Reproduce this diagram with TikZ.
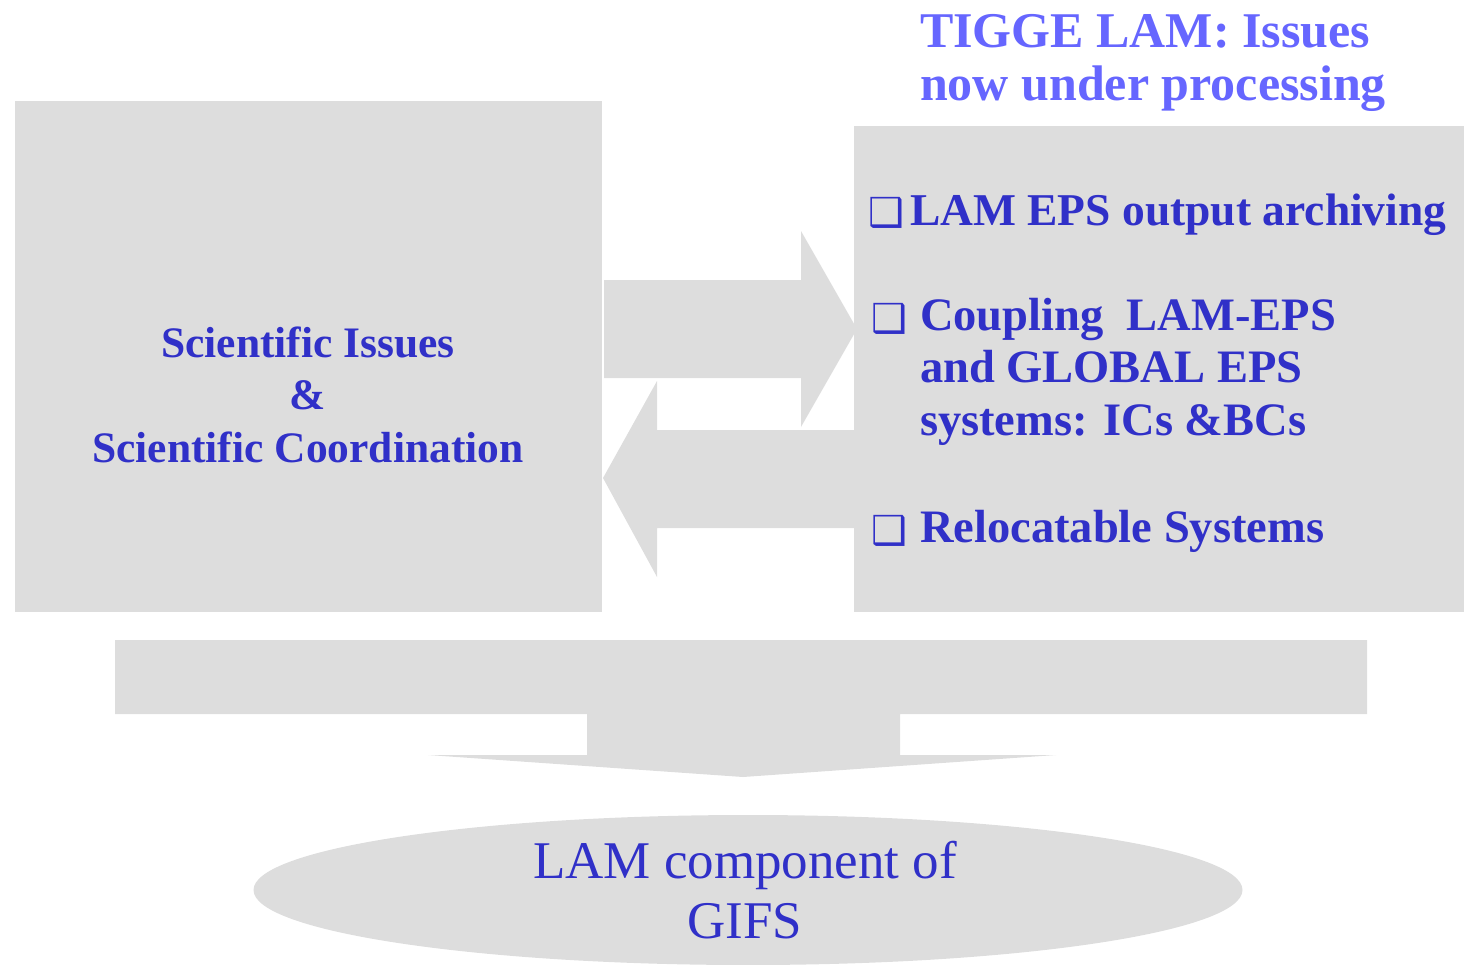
\documentclass[tikz,border=0pt]{standalone}
\usepackage{fontspec}
\setmainfont{Liberation Serif}
\newfontfamily\dingfont{DejaVu Sans}
\usetikzlibrary{shapes.geometric}
\definecolor{boxgray}{HTML}{DDDDDD}
\definecolor{txtblue}{RGB}{48,48,200}
\definecolor{titleblue}{HTML}{6666FF}
\tikzset{
  panel/.style={fill=boxgray, draw=none},
  flow/.style={fill=boxgray, draw=none},
  plain/.style={inner sep=0pt, outer sep=0pt},
  bodytext/.style={plain, text=txtblue, font=\bfseries\fontsize{46.5}{52.5}\selectfont, align=left},
  bullet/.style={plain, text=txtblue, font=\dingfont\fontsize{40}{48}\selectfont},
}
\begin{document}
\begin{tikzpicture}[x=1pt,y=-1pt]
\useasboundingbox (0,0) rectangle (1464,964);
% panels
\path[panel] (15,101) rectangle (602,612);
\path[panel] (854,126) rectangle (1464,612);
% right arrow (left panel -> right panel)
\fill[flow] (604,280) -- (801,280) -- (801,231) -- (857,329) -- (801,427) -- (801,378) -- (604,378) -- cycle;
% left arrow (right panel -> left panel)
\fill[flow] (854,430) -- (657,430) -- (657,381) -- (603,478) -- (657,577) -- (657,528) -- (854,528) -- cycle;
% bottom arrow
\fill[flow] (115,640) -- (1367,640) -- (1367,714) -- (900,714) -- (900,755) -- (1056,755) -- (743,777) -- (428,755) -- (587,755) -- (587,714) -- (115,714) -- cycle;
% ellipse
\node[ellipse, fill=boxgray, draw=none, minimum width=989pt, minimum height=150pt, inner sep=0pt] (gifs) at (748,890) {};
% title
\node[plain, anchor=base west, text=titleblue, font=\bfseries\fontsize{50}{53}\selectfont, align=left] (title) at (920,100) {TIGGE LAM: Issues\\now under processing};
% left text
\node[plain, anchor=base, text=txtblue, font=\bfseries\fontsize{43.5}{52.5}\selectfont, align=center] (sci) at (308,462) {Scientific Issues\\\&\\Scientific Coordination};
% right items
\node[bullet, anchor=base west] (b1) at (868,226) {❑};
\node[bodytext, anchor=base west, font=\bfseries\fontsize{45.5}{52.5}\selectfont] (i1) at (910,225) {LAM EPS output archiving};
\node[bullet, anchor=base west] (b2) at (871,332) {❑};
\node[bodytext, anchor=base west] (i2) at (920,435) {Coupling\ \ LAM-EPS\\and GLOBAL EPS\\systems: ICs \&BCs};
\node[bullet, anchor=base west] (b3) at (871,544) {❑};
\node[bodytext, anchor=base west] (i3) at (920,542) {Relocatable Systems};
% ellipse text
\node[plain, anchor=base, text=txtblue, font=\fontsize{53}{60}\selectfont, align=center] (gifstext) at (745,938) {LAM component of\\GIFS};
\end{tikzpicture}
\end{document}
